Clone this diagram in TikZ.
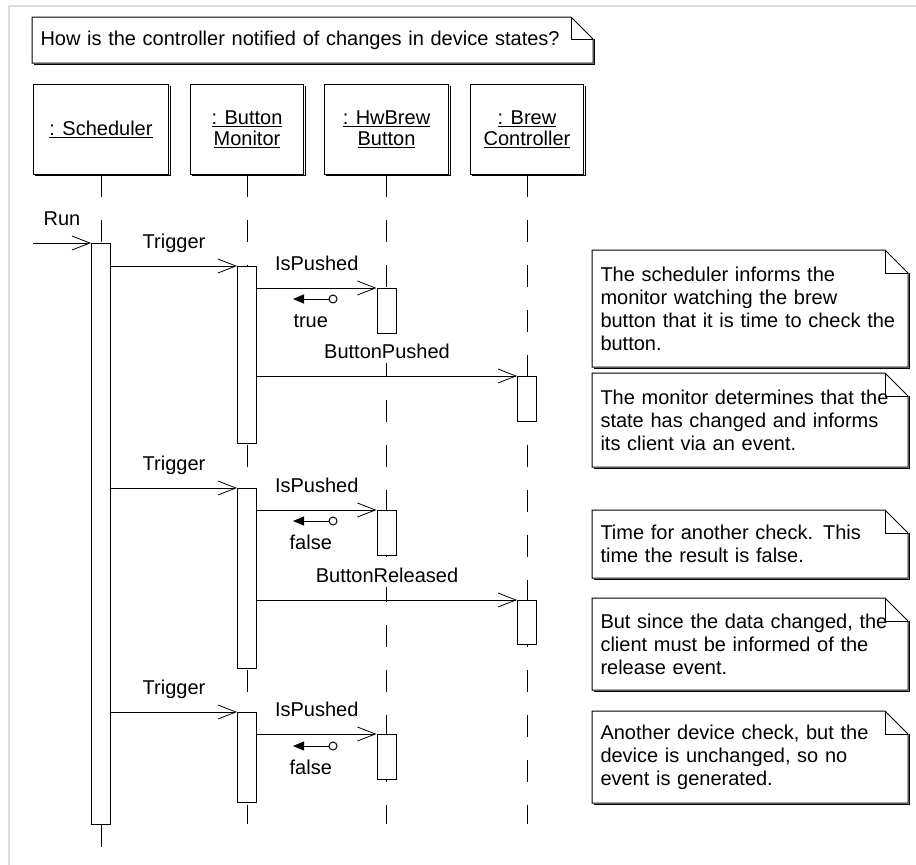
\documentclass[tikz,border=0pt]{standalone}
\usepackage{fontspec}
\setmainfont{Liberation Sans}
\usetikzlibrary{arrows.meta,calc}

\definecolor{framegray}{RGB}{220,220,220}

% UML note outline with a folded corner; #1 = node name, #2 = fold size
\newcommand\notefold[2]{%
  \draw (#1.north west) -- ([xshift=-#2]#1.north east) -- ([yshift=-#2]#1.north east)
        -- (#1.south east) -- (#1.south west) -- cycle;
  \draw ([xshift=-#2]#1.north east) -- ([xshift=-#2,yshift=-#2]#1.north east)
        -- ([yshift=-#2]#1.north east);
  \draw ([shift={(2pt,-1pt)}]#1.south west) -- ([shift={(1pt,-1pt)}]#1.south east)
        -- ([shift={(1pt,-#2)}]#1.north east);
}

\begin{document}
\begin{tikzpicture}[x=1pt,y=-1pt,line width=1pt,
  txt/.style={font=\fontsize{20}{23}\selectfont, inner sep=0pt},
  objbox/.style={draw, minimum width=#1, minimum height=90pt, inner sep=0pt,
    align=center, font=\fontsize{20}{21}\selectfont},
  objbox/.default=113pt,
  lifeline/.style={dash pattern=on 22pt off 23pt},
  actbar/.style={draw, fill=white, minimum width=19pt, minimum height=#1,
    inner sep=0pt, anchor=north},
  actbar/.default=45pt,
  msg/.style={-{Straight Barb[length=18pt,width=14pt,line width=0.8pt]}},
  ret/.style={-{Triangle[length=11pt,width=9pt]}},
  retdot/.style={circle, draw, fill=white, inner sep=0pt, minimum size=8pt},
  lbl/.style={txt, anchor=base, yshift=18pt, fill=white, inner xsep=1pt, inner ysep=5pt},
  retlbl/.style={txt, anchor=base, yshift=-28pt},
  notetext/.style={txt, anchor=north west, text width=299pt, align=left,
    inner xsep=8pt, inner ysep=0pt}
]
\useasboundingbox (0,0) rectangle (916,865);
\fill[white] (0,0) rectangle (916,865);
\draw[framegray, line width=2pt] (9,865) -- (9,6) -- (916,6);

% question heading
\node[txt, anchor=north west, text width=544pt, inner xsep=8pt,
      minimum height=45pt, align=left] (title) at (32,17)
  {How is the controller notified of changes in device states?};
\notefold{title}{22pt}

% participants
\node[objbox=135pt] (sched) at (101,129) {\underline{: Scheduler}};
\node[objbox=113pt] (mon) at (247,129) {\underline{: Button}\\\underline{Monitor}};
\node[objbox=124pt] (hw) at (386.5,129) {\underline{: HwBrew}\\\underline{Button}};
\node[objbox=113pt] (brew) at (527,129) {\underline{: Brew}\\\underline{Controller}};
\foreach \b in {sched,mon,hw,brew}{
  \draw ([shift={(2pt,-1pt)}]\b.south west) -- ([shift={(1pt,-1pt)}]\b.south east)
        -- ([shift={(1pt,-2pt)}]\b.north east);
}

% lifeline ends
\coordinate (endS) at (101,847);
\coordinate (endL) at (0,824);

% scheduler activation
\node[actbar=581pt] (sbar) at (101,243) {};

% lifelines
\draw[lifeline] (sched.south) -- (sbar.north);
\draw (sbar.south) -- (endS);
\draw[lifeline] (mon.south) -- (mon.south |- endL);
\draw[lifeline] (hw.south) -- (hw.south |- endL);
\draw[lifeline] (brew.south) -- (brew.south |- endL);

% activation bars
\node[actbar=177pt] (m1) at (247,266) {};
\node[actbar=180pt] (m2) at (247,488) {};
\node[actbar=90pt]  (m3) at (247,712) {};
\node[actbar=45pt]  (h1) at (386.5,288) {};
\node[actbar=45pt]  (h2) at (386.5,510) {};
\node[actbar=45pt]  (h3) at (386.5,734) {};
\node[actbar=45pt]  (b1) at (527,376) {};
\node[actbar=44pt]  (b2) at (527,600) {};

% messages
\coordinate (runS) at (33,243);
\draw[msg] (runS) -- node[lbl]{Run} (sbar.north west);

\draw[msg] (m1.north west -| sbar.east) -- node[lbl]{Trigger} (m1.north west);
\draw[msg] (h1.north west -| m1.east) -- node[lbl]{IsPushed} (h1.north west);
\draw[msg] (b1.north west -| m1.east) -- node[lbl]{ButtonPushed} (b1.north west);

\draw[msg] (m2.north west -| sbar.east) -- node[lbl]{Trigger} (m2.north west);
\draw[msg] (h2.north west -| m2.east) -- node[lbl]{IsPushed} (h2.north west);
\draw[msg] (b2.north west -| m2.east) -- node[lbl]{ButtonReleased} (b2.north west);

\draw[msg] (m3.north west -| sbar.east) -- node[lbl]{Trigger} (m3.north west);
\draw[msg] (h3.north west -| m3.east) -- node[lbl]{IsPushed} (h3.north west);

% return values
\node[retdot] (r1) at (333,299) {};
\coordinate (r1t) at (293,299);
\draw[ret] (r1.west) -- node[retlbl]{true} (r1t);

\node[retdot] (r2) at (333,521) {};
\coordinate (r2t) at (293,521);
\draw[ret] (r2.west) -- node[retlbl]{false} (r2t);

\node[retdot] (r3) at (333,746) {};
\coordinate (r3t) at (293,746);
\draw[ret] (r3.west) -- node[retlbl]{false} (r3t);

% explanatory notes
\node[notetext, minimum height=116pt] (n1) at (592,250)
  {The scheduler informs the\\monitor watching the brew\\button that it is time to check the\\button.};
\node[notetext, minimum height=93pt] (n2) at (592,373)
  {The monitor determines that the\\state has changed and informs\\its client via an event.};
\node[notetext, minimum height=67pt] (n3) at (592,510)
  {Time for another check. This\\time the result is false.};
\node[notetext, minimum height=91pt] (n4) at (592,598)
  {But since the data changed, the\\client must be informed of the\\release event.};
\node[notetext, minimum height=91pt] (n5) at (592,711)
  {Another device check, but the\\device is unchanged, so no\\event is generated.};
\foreach \n in {n1,n2,n3,n4,n5}{\notefold{\n}{23pt}}
\end{tikzpicture}
\end{document}
